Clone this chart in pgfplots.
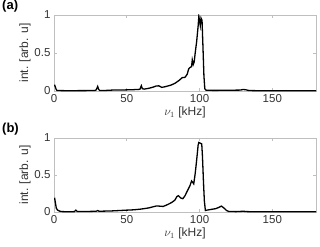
\documentclass[border=0pt]{standalone}
\usepackage{pgfplots}
\pgfplotsset{compat=1.18}
\usepackage{fontspec}
\setmainfont{Liberation Sans}
\definecolor{axgray}{gray}{0.75}
\definecolor{txgray}{gray}{0.2}
\pgfplotsset{
  myax/.style={
    scale only axis, width=262pt, height=76pt,
    xmin=0, xmax=180, ymin=0, ymax=1,
    xtick={0,50,100,150}, ytick={0,0.5,1},
    tick align=inside, tickwidth=3pt,
    axis line style={axgray, line width=0.6pt},
    every tick/.style={axgray, line width=0.6pt},
    tick label style={font=\fontsize{11.5}{13}\selectfont, text=txgray},
    label style={font=\fontsize{12}{14}\selectfont, text=txgray},
    /pgf/number format/assume math mode=true,
    xlabel={$\nu_1$ [kHz]},
    ylabel={int. [arb. u]},
    xlabel style={yshift=3pt},
    ylabel style={yshift=-3pt},
  }
}
\begin{document}
\begin{tikzpicture}
\useasboundingbox (0,0) rectangle (320pt,-246pt);
\begin{axis}[myax, at={(54pt,-15pt)}, anchor=north west]
\addplot[black, line width=1.3pt] coordinates {
(0,0.07) (0.5,0.075) (1,0.05) (1.5,0.02) (2,0.008) (5,0.005) (10,0.004) (20,0.005)
(28,0.006) (29,0.015) (30,0.06) (30.7,0.02) (31.5,0.006) (35,0.007) (40,0.012) (45,0.012)
(50,0.015) (55,0.018) (59,0.022) (60,0.07) (60.7,0.03) (62,0.025) (65,0.035) (68,0.05)
(70,0.065) (72,0.068) (74,0.048) (76,0.055) (80,0.075) (83,0.1) (86,0.14) (88,0.175)
(90,0.18) (91.5,0.22) (92.5,0.29) (93.5,0.31) (94.5,0.32) (95,0.41) (95.7,0.35) (96.3,0.38)
(97,0.5) (98,0.65) (99,0.85) (99.5,0.98) (100,0.92) (100.5,0.86) (101,0.96) (101.7,0.93)
(102.3,0.6) (103,0.2) (103.6,0.03) (104.5,0.01) (110,0.008) (120,0.01) (128,0.012)
(130,0.02) (132,0.015) (134,0.006) (140,0.004) (150,0.004) (160,0.003) (170,0.003) (180,0.003)
};
\end{axis}
\begin{axis}[myax, height=74pt, at={(54pt,-138pt)}, anchor=north west]
\addplot[black, line width=1.3pt] coordinates {
(0,0.17) (0.5,0.18) (1,0.12) (1.6,0.05) (2.5,0.025) (4,0.01) (6,0.005) (10,0.004)
(14,0.005) (15,0.025) (16,0.006) (20,0.006) (29,0.01) (30,0.02) (31,0.01) (40,0.015)
(50,0.025) (55,0.03) (60,0.04) (65,0.055) (68,0.07) (70,0.08) (72,0.08) (75,0.075)
(78,0.1) (81,0.13) (83,0.16) (84.5,0.21) (85.5,0.22) (87,0.19) (88.5,0.18) (90,0.22)
(92,0.3) (93.5,0.36) (94.5,0.42) (95.3,0.4) (96,0.38) (97,0.52) (98,0.7) (99,0.9)
(99.5,0.94) (100.5,0.93) (101.5,0.92) (102,0.75) (102.7,0.4) (103.3,0.15) (104,0.02)
(105,0.025) (108,0.035) (111,0.045) (113,0.06) (115,0.08) (117,0.05) (118.5,0.02)
(120,0.008) (125,0.005) (130,0.01) (133,0.005) (140,0.003) (160,0.003) (180,0.003)
};
\end{axis}
\node[anchor=north west, font=\bfseries\fontsize{13}{14}\selectfont, inner sep=0pt] at (2pt,0pt) {(a)};
\node[anchor=north west, font=\bfseries\fontsize{13}{14}\selectfont, inner sep=0pt] at (2pt,-123pt) {(b)};
\end{tikzpicture}
\end{document}
